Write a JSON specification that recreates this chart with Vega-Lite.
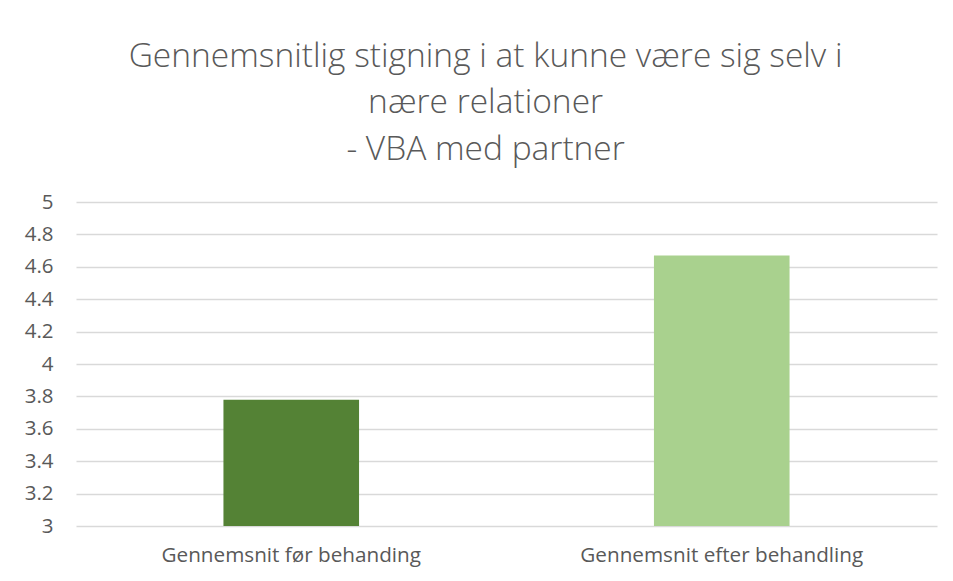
{
  "$schema": "https://vega.github.io/schema/vega-lite/v6.json",
  "autosize": "none",
  "width": 861,
  "height": 324,
  "padding": {"left": 76, "top": 202, "right": 16, "bottom": 55},
  "background": "white",
  "title": {
    "text": ["Gennemsnitlig stigning i at kunne være sig selv i", "nære relationer", "- VBA med partner"],
    "font": "Open Sans",
    "fontSize": 33.5,
    "fontWeight": 300,
    "color": "#595959",
    "lineHeight": 46.5,
    "anchor": "middle",
    "frame": "bounds",
    "offset": 25,
    "dx": 5
  },
  "data": {
    "values": [
      {"kategori": "Gennemsnit før behanding", "gennemsnit": 3.78},
      {"kategori": "Gennemsnit efter behandling", "gennemsnit": 4.67}
    ]
  },
  "mark": {"type": "bar", "clip": true},
  "encoding": {
    "x": {
      "field": "kategori",
      "type": "nominal",
      "sort": null,
      "scale": {"paddingInner": 0.685, "paddingOuter": 0.3425},
      "axis": {
        "title": null,
        "labelAngle": 0,
        "domain": false,
        "ticks": false,
        "labelPadding": 19,
        "labelLimit": 0,
        "labelFont": "Open Sans",
        "labelFontSize": 20.7,
        "labelColor": "#595959"
      }
    },
    "y": {
      "field": "gennemsnit",
      "type": "quantitative",
      "scale": {"domain": [3, 5], "nice": false, "zero": false},
      "axis": {
        "title": null,
        "values": [3, 3.2, 3.4, 3.6, 3.8, 4, 4.2, 4.4, 4.6, 4.8, 5],
        "format": ".1~f",
        "domain": false,
        "ticks": false,
        "labelPadding": 23,
        "labelFont": "Open Sans",
        "labelFontSize": 20.5,
        "labelColor": "#595959",
        "gridColor": "#d9d9d9",
        "gridWidth": 1.3
      }
    },
    "color": {
      "field": "kategori",
      "type": "nominal",
      "sort": null,
      "scale": {"range": ["#548235", "#a9d18e"]},
      "legend": null
    }
  },
  "config": {"view": {"stroke": null}}
}
